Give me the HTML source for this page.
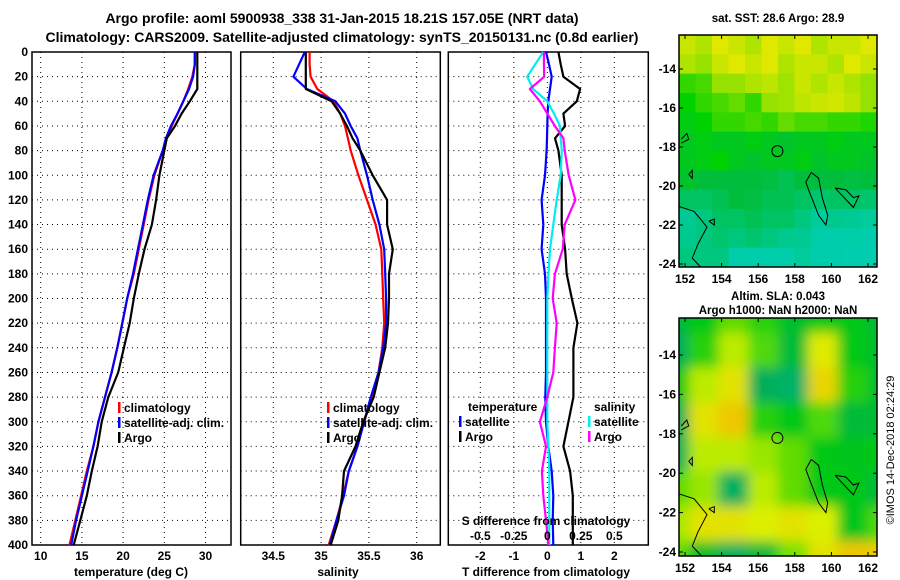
<!DOCTYPE html>
<html><head><meta charset="utf-8"><style>
body{margin:0;background:#fff;width:900px;height:580px;overflow:hidden}
svg{display:block;font-family:"Liberation Sans",sans-serif;font-weight:bold}
</style></head><body>
<svg id="c" width="900" height="580">
<defs><filter id="bl" x="0" y="0" width="1" height="1"><feGaussianBlur stdDeviation="6"/></filter>
<clipPath id="cpTop"><rect x="679" y="35" width="198" height="232"/></clipPath>
<clipPath id="cpBot"><rect x="679" y="318" width="198" height="238"/></clipPath></defs>
<text x="342" y="23" text-anchor="middle" font-size="14">Argo profile: aoml 5900938_338 31-Jan-2015 18.21S 157.05E (NRT data)</text>
<text x="342" y="42" text-anchor="middle" font-size="14">Climatology: CARS2009. Satellite-adjusted climatology: synTS_20150131.nc (0.8d earlier)</text>
<text x="778" y="22" text-anchor="middle" font-size="11.5">sat. SST: 28.6 Argo: 28.9</text>
<text x="778" y="300" text-anchor="middle" font-size="11.5">Altim. SLA: 0.043</text>
<text x="778" y="314" text-anchor="middle" font-size="11.5">Argo h1000: NaN h2000: NaN</text>
<text transform="translate(894,450) rotate(-90)" text-anchor="middle" font-size="11" font-weight="normal">©IMOS 14-Dec-2018 02:24:29</text>
</svg>
<script>
// ---- data ----
const depths=[0,10,20,30,40,50,60,70,80,100,120,140,160,180,200,220,240,260,280,300,320,340,360,380,400];
const tempClim=[28.7,28.7,28.4,27.9,27.3,26.6,25.9,25.3,24.8,23.8,23.1,22.5,21.9,21.3,20.5,19.9,19.3,18.6,17.8,17.0,16.4,15.6,14.9,14.2,13.5];
const tempSat=[28.7,28.7,28.5,28.0,27.3,26.6,25.8,25.2,24.8,23.7,23.0,22.4,21.8,21.2,20.5,19.9,19.3,18.6,17.8,17.0,16.4,15.7,15.0,14.3,13.7];
const tempArgo=[29.0,29.0,29.0,29.0,28.1,27.1,26.3,25.3,25.0,24.4,24.0,23.5,22.6,21.9,21.3,20.8,20.1,19.4,18.2,17.4,16.9,16.2,15.6,14.8,14.0];
const salClim=[34.88,34.88,34.89,34.96,35.13,35.2,35.25,35.28,35.31,35.39,35.48,35.57,35.63,35.64,35.65,35.66,35.64,35.6,35.53,35.45,35.38,35.29,35.23,35.16,35.08];
const salSat=[34.83,34.77,34.71,34.85,35.15,35.25,35.31,35.38,35.41,35.48,35.54,35.61,35.66,35.67,35.68,35.68,35.65,35.6,35.52,35.45,35.38,35.29,35.24,35.16,35.09];
const salArgo=[34.84,34.84,34.84,34.84,35.11,35.2,35.27,35.33,35.41,35.54,35.69,35.69,35.75,35.71,35.71,35.70,35.67,35.61,35.55,35.44,35.36,35.24,35.22,35.18,35.1];
const dTSat=[-0.04,0.05,0.13,0.08,0.03,0.01,0,-0.01,-0.02,-0.07,-0.17,-0.12,-0.17,-0.07,-0.04,-0.04,-0.04,-0.04,-0.06,-0.04,0.03,0.13,0.18,0.16,0.18];
const dTArgo=[0.33,0.4,0.48,0.98,0.88,0.48,0.53,0.23,0.33,0.43,0.43,0.43,0.53,0.58,0.73,0.9,0.78,0.78,0.78,0.63,0.48,0.68,0.76,0.76,0.76];
const dSSat=[-0.03,-0.09,-0.15,-0.105,0,0.05,0.095,0.1,0.108,0.1,0.07,0.045,0.02,0.008,0,0,0,0,0,0,0.008,0.015,0.015,0.015,0.015];
const dSArgo=[-0.025,-0.025,-0.023,-0.13,-0.055,0,0.057,0.12,0.13,0.16,0.21,0.13,0.115,0.057,0.04,0.07,0.057,0.045,0,-0.055,-0.01,-0.04,-0.03,-0.01,0.008];
const tempTicks=[10,15,20,25,30], salTicks=[34.5,35,35.5,36], dTTicks=[-2,-1,0,1,2], dSTicks=[-0.5,-0.25,0,0.25,0.5];
const depthTicks=[0,20,40,60,80,100,120,140,160,180,200,220,240,260,280,300,320,340,360,380,400];
const lonTicks=[152,154,156,158,160,162], latTicks=[-14,-16,-18,-20,-22,-24];
const argoLon=157.05, argoLat=-18.21;
const sstGrid=[
[0.8,0.75,0.85,0.8,0.75,0.85,0.8,0.85,0.75,0.8,0.8,0.85],
[0.75,0.7,0.8,0.85,0.8,0.85,0.75,0.8,0.8,0.75,0.85,0.8],
[0.6,0.62,0.7,0.7,0.75,0.78,0.72,0.8,0.75,0.8,0.75,0.7],
[0.55,0.6,0.62,0.65,0.6,0.7,0.72,0.78,0.8,0.82,0.78,0.7],
[0.52,0.55,0.6,0.6,0.62,0.6,0.65,0.62,0.62,0.6,0.6,0.58],
[0.5,0.52,0.5,0.5,0.52,0.5,0.48,0.5,0.5,0.52,0.5,0.5],
[0.5,0.52,0.55,0.5,0.48,0.5,0.5,0.52,0.48,0.5,0.5,0.48],
[0.48,0.45,0.45,0.45,0.45,0.44,0.42,0.45,0.45,0.45,0.44,0.45],
[0.4,0.4,0.42,0.45,0.44,0.42,0.42,0.4,0.38,0.4,0.4,0.38],
[0.33,0.36,0.4,0.4,0.42,0.4,0.4,0.36,0.32,0.34,0.33,0.32],
[0.34,0.36,0.38,0.36,0.38,0.36,0.34,0.33,0.3,0.28,0.3,0.28],
[0.36,0.36,0.36,0.3,0.3,0.28,0.3,0.32,0.3,0.28,0.25,0.25]];
const slaGrid=[
[0.42,0.5,0.62,0.55,0.45,0.5,0.5,0.42],
[0.35,0.55,0.75,0.6,0.42,0.82,0.5,0.45],
[0.5,0.75,0.85,0.35,0.25,0.9,0.55,0.45],
[0.35,0.85,0.95,0.55,0.5,0.6,0.42,0.42],
[0.35,0.75,0.75,0.7,0.62,0.5,0.48,0.5],
[0.62,0.7,0.32,0.75,0.62,0.5,0.5,0.42],
[0.72,0.85,0.85,0.8,0.85,0.8,0.48,0.6],
[0.62,0.45,0.32,0.42,0.65,0.85,0.95,0.92]];
// ---- helpers ----
const svg=document.getElementById('c'), NS='http://www.w3.org/2000/svg';
function mk(t,a,p){const e=document.createElementNS(NS,t);for(const k in a)e.setAttribute(k,a[k]);(p||svg).appendChild(e);return e;}
const Y0=52,Y1=545; const yD=d=>Y0+(Y1-Y0)*d/400;
function lin(d0,d1,r0,r1){return v=>r0+(v-d0)*(r1-r0)/(d1-d0);}
const xT=lin(10,30,40.7,205.5), xS=lin(34.5,36,273.3,416.7), xdT=lin(-2,2,480.3,614.3), xdS=v=>xdT(v*4);
function panel(x0,x1,name){
  const r=mk('rect',{x:x0,y:Y0,width:x1-x0,height:Y1-Y0,fill:'#fff',stroke:'#000','stroke-width':1.5});
  
  depthTicks.forEach(d=>{if(d>0&&d<400)mk('line',{x1:x0,x2:x1,y1:yD(d),y2:yD(d),stroke:'#000','stroke-dasharray':'1 4'});});
}
function vgrid(ticks,fx,name){ticks.forEach(t=>{const l=mk('line',{x1:fx(t),x2:fx(t),y1:Y0,y2:Y1,stroke:'#000','stroke-dasharray':'1 4'});});}
function xlabels(ticks,fx,y,name){ticks.forEach(t=>{const e=mk('text',{x:fx(t),y:y,'text-anchor':'middle','font-size':12});e.textContent=t;});}
function line(xs,fx,color,name,w){const pts=xs.map((v,i)=>fx(v).toFixed(1)+','+yD(depths[i]).toFixed(1)).join(' ');
  const e=mk('polyline',{points:pts,fill:'none',stroke:color,'stroke-width':w||2.2,'stroke-linejoin':'round'});}
function legend(x,y,items){items.forEach((it,i)=>{const yy=y+i*15;mk('rect',{x:x,y:yy-10,width:2.5,height:11,fill:it[1]});const t=mk('text',{x:x+6,y:yy,'font-size':12});t.textContent=it[0];});}
// panel 1
panel(32,231,'temperature-axes'); vgrid(tempTicks,xT,'temp-grid');
depthTicks.forEach(d=>{const e=mk('text',{x:28,y:yD(d)+4,'text-anchor':'end','font-size':12});e.textContent=d;});
xlabels(tempTicks,xT,560,'temp-tick');
line(tempClim,xT,'#f00','temp-climatology');line(tempSat,xT,'#00f','temp-satellite');line(tempArgo,xT,'#000','temp-argo');
legend(118,412,[['climatology','#f00'],['satellite-adj. clim.','#00f'],['Argo','#000']]);
let t=mk('text',{x:131,y:576,'text-anchor':'middle','font-size':12});t.textContent='temperature (deg C)';
// panel 2
panel(240.7,440.3,'salinity-axes'); vgrid(salTicks,xS,'sal-grid');
xlabels(salTicks,xS,560,'sal-tick');
line(salClim,xS,'#f00','sal-climatology');line(salSat,xS,'#00f','sal-satellite');line(salArgo,xS,'#000','sal-argo');
legend(327,412,[['climatology','#f00'],['satellite-adj. clim.','#00f'],['Argo','#000']]);
t=mk('text',{x:338,y:576,'text-anchor':'middle','font-size':12});t.textContent='salinity';
// panel 3
panel(448.3,648.3,'difference-axes'); vgrid(dTTicks,xdT,'diff-grid');
xlabels(dTTicks,xdT,560,'dT-tick');
line(dTSat,xdT,'#00f','dT-satellite');line(dTArgo,xdT,'#000','dT-argo');
line(dSSat,xdS,'#0ee','dS-satellite');line(dSArgo,xdS,'#f0f','dS-argo');
t=mk('text',{x:468,y:411,'font-size':12});t.textContent='temperature';
legend(459,426,[['satellite','#00f'],['Argo','#000']]);
t=mk('text',{x:594,y:411,'font-size':12});t.textContent='salinity';
legend(588,426,[['satellite','#0ee'],['Argo','#f0f']]);
t=mk('text',{x:546,y:525,'text-anchor':'middle','font-size':12});t.textContent='S difference from climatology';
xlabels(dSTicks,xdS,540,'dS-tick');
t=mk('text',{x:546,y:576,'text-anchor':'middle','font-size':12});t.textContent='T difference from climatology';
// ---- maps ----
function cmap(v){const st=[[0,[0,210,200]],[0.3,[0,205,170]],[0.45,[0,190,60]],[0.55,[0,210,0]],[0.7,[150,225,0]],[0.85,[225,232,0]],[1,[245,175,0]]];
 for(let i=1;i<st.length;i++){if(v<=st[i][0]){const a=st[i-1],b=st[i],f=(v-a[0])/(b[0]-a[0]);return 'rgb('+a[1].map((c,j)=>Math.round(c+(b[1][j]-c)*f)).join(',')+')';}}return 'rgb(245,175,0)';}
function cmapSla(v){const st=[[0,[0,185,140]],[0.35,[0,175,90]],[0.5,[0,200,20]],[0.65,[120,225,0]],[0.8,[220,240,0]],[1,[245,185,0]]];
 for(let i=1;i<st.length;i++){if(v<=st[i][0]){const a=st[i-1],b=st[i],f=(v-a[0])/(b[0]-a[0]);return 'rgb('+a[1].map((c,j)=>Math.round(c+(b[1][j]-c)*f)).join(',')+')';}}return 'rgb(245,185,0)';}
function map(x0,y0,w,h,grid,clip,blur,name,lonX,latY,cm){
  const g=mk('g',{'clip-path':'url(#'+clip+')'});
  const inner=mk('g',blur?{filter:'url(#bl)'}:{},g);
  const R=grid.length,C=grid[0].length,pad=blur?20:0;
  grid.forEach((row,i)=>row.forEach((v,j)=>{
    const cw=(w+2*pad)/C,ch=(h+2*pad)/R;
    mk('rect',{x:x0-pad+j*cw,y:y0-pad+i*ch,width:cw+0.5,height:ch+0.5,fill:cm(v)},inner);}));
  const P=pts=>pts.map(p=>lonX(p[0]).toFixed(1)+','+latY(p[1]).toFixed(1)).join(' ');
  [[[158.9,-19.3],[159.3,-19.6],[159.5,-20.6],[159.8,-21.5],[159.7,-22],[159.3,-21.5],[158.8,-20.3],[158.6,-19.8],[158.9,-19.3]],
   [[151.5,-21],[152.5,-21.3],[153.2,-22.1],[152.7,-23],[152.4,-23.7],[153,-24.3]],
   [[160.2,-20.1],[160.8,-20.2],[161.2,-20.6],[161.5,-20.5],[161.2,-21.1],[160.9,-20.8],[160.5,-20.4],[160.2,-20.1]],
   [[153.3,-21.8],[153.6,-21.7],[153.6,-22],[153.3,-21.8]],
   [[152.2,-19.4],[152.4,-19.2],[152.4,-19.6],[152.2,-19.4]],
   [[151.8,-17.6],[152.1,-17.3],[152.2,-17.6],[151.8,-17.8]]].forEach(c=>mk('polyline',{points:P(c),fill:'none',stroke:'#000','stroke-width':1},g));
  mk('circle',{cx:lonX(argoLon),cy:latY(argoLat),r:5.5,fill:'none',stroke:'#000','stroke-width':1},g);
  mk('rect',{x:x0,y:y0,width:w,height:h,fill:'none',stroke:'#000','stroke-width':1.5});
  lonTicks.forEach(l=>{mk('line',{x1:lonX(l),x2:lonX(l),y1:y0+h,y2:y0+h-4,stroke:'#000'});mk('line',{x1:lonX(l),x2:lonX(l),y1:y0,y2:y0+4,stroke:'#000'});const e=mk('text',{x:lonX(l),y:y0+h+16,'text-anchor':'middle','font-size':12});e.textContent=l;});
  latTicks.forEach(l=>{mk('line',{x1:x0+w,x2:x0+w-4,y1:latY(l),y2:latY(l),stroke:'#000'});mk('line',{x1:x0,x2:x0+4,y1:latY(l),y2:latY(l),stroke:'#000'});const e=mk('text',{x:x0-3,y:latY(l)+4,'text-anchor':'end','font-size':12});e.textContent=l;});
}
map(679,35,198,232,sstGrid,'cpTop',false,'sst-map',lin(152,162,685,868),lin(-14,-24,69,264),cmap);
map(679,318,198,238,slaGrid,'cpBot',true,'sla-map',lin(152,162,685,868),lin(-14,-24,355,552),cmapSla);
</script>
</body></html>
